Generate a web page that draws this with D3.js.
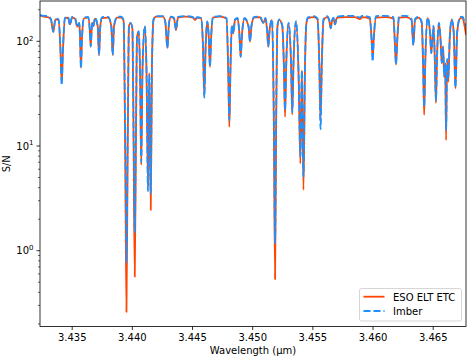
<!DOCTYPE html>
<html><head><meta charset="utf-8">
<script src="https://cdn.jsdelivr.net/npm/d3@7"></script>
<style>body{margin:0;background:#fff}svg{display:block}text{font-family:"DejaVu Sans",sans-serif;font-size:10px;fill:#000}</style>
</head><body><svg id="c" width="467" height="360"></svg>
<script>
const wavelength = [
3.43237,3.43270,3.43303,3.43328,3.43347,3.43365,3.43390,3.43407,3.43417,3.43427,
3.43444,3.43469,3.43486,3.43503,3.43527,3.43547,3.43563,3.43569,3.43577,3.43586,
3.43602,3.43636,3.43650,3.43658,3.43667,3.43671,3.43680,3.43694,3.43716,3.43727,
3.43738,3.43752,3.43802,3.43829,3.43841,3.43852,3.43877,3.43910,3.43931,3.43945,
3.43955,3.43965,3.43976,3.43990,3.44005,3.44014,3.44024,3.44034,3.44043,3.44057,
3.44068,3.44078,3.44088,3.44107,3.44122,3.44134,3.44145,3.44157,3.44167,3.44180,
3.44201,3.44259,3.44279,3.44295,3.44309,3.44325,3.44350,3.44367,3.44383,3.44442,
3.44508,3.44525,3.44541,3.44575,3.44591,3.44602,3.44613,3.44627,3.44639,3.44649,
3.44659,3.44674,3.44732,3.44786,3.44801,3.44810,3.44819,3.44831,3.44843,3.44857,
3.44878,3.44893,3.44904,3.44916,3.44936,3.44969,3.44982,3.44994,3.45015,3.45065,
3.45092,3.45111,3.45123,3.45134,3.45145,3.45165,3.45180,3.45190,3.45199,3.45210,
3.45225,3.45250,3.45263,3.45273,3.45283,3.45302,3.45323,3.45333,3.45343,3.45364,
3.45387,3.45400,3.45413,3.45426,3.45439,3.45451,3.45464,3.45514,3.45543,3.45558,
3.45568,3.45578,3.45593,3.45622,3.45642,3.45652,3.45663,3.45676,3.45688,3.45705,
3.45771,3.45854,3.45896,3.45912,3.45977,3.45991,3.46001,3.46011,3.46029,3.46104,
3.46174,3.46185,3.46195,3.46205,3.46220,3.46278,3.46324,3.46339,3.46353,3.46382,
3.46409,3.46420,3.46429,3.46438,3.46458,3.46478,3.46488,3.46507,3.46517,3.46527,
3.46536,3.46552,3.46566,3.46575,3.46586,3.46596,3.46604,3.46611,3.46620,3.46630,
3.46642,3.46658,3.46675,3.46689,3.46703,3.46727,3.46748,3.46760,3.46777];
const etcSN = [
176,172,170,160,123,162,160,80,40,80,
165,168,145,168,165,138,150,110,56,110,
165,168,130,89,135,150,140,165,140,74,
140,167,168,140,74,140,168,168,158,8,
0.26,8,140,149,130,12,0.565,12,110,123,
50,6.6,50,138,50,4.2,50,2.45,60,160,
172,172,150,86,150,170,165,128,168,172,
168,160,168,165,90,30,90,154,110,57,
110,168,172,165,50,15.2,50,140,119,160,
165,120,71,120,165,140,99,140,168,170,
150,165,130,89,130,160,15,0.535,15,140,
160,140,60,19,60,149,60,20,60,154,
40,6.8,53,3.8,60,150,166,170,162,60,
17,60,160,170,155,133,155,165,145,168,
170,170,163,170,165,110,70,110,168,170,
165,100,60,100,168,170,160,92,160,168,
150,60,19.8,60,166,120,77,140,70,25.8,
70,149,100,62,89,46,60,11.4,66,41,
110,160,120,35.5,120,165,168,150,115];
const imberSN = [
178,175,174,162,123,165,163,82,38,82,
168,171,143,171,168,138,150,110,55,110,
168,171,130,89,135,150,140,168,140,74,
140,170,171,140,74,140,171,172,160,12,
0.76,12,142,150,132,15,1.5,15,112,125,
52,7,52,140,50,3.7,48,3.5,60,162,
174,174,150,86,150,172,168,128,171,174,
170,160,170,167,90,29,90,155,110,57,
110,171,174,167,55,17.7,55,142,119,162,
167,120,71,120,167,140,99,140,171,172,
150,167,130,89,130,162,20,1.18,20,142,
162,142,62,22,62,150,62,21,62,156,
42,7.9,53,5.1,60,152,169,174,165,55,
14.5,55,163,174,157,133,157,168,145,172,
175,175,168,175,170,110,64,110,174,175,
170,100,60,100,174,175,163,92,163,172,
152,65,23.7,65,168,120,77,140,72,27,
72,150,100,62,89,46,62,14.2,68,45,
110,162,120,36,120,170,172,160,140];
const seriesNames = ["ESO ELT ETC", "Imber"];
const xTicks = [3.435, 3.440, 3.445, 3.450, 3.455, 3.460, 3.465];
const yTicks = [1, 10, 100];
const yTickExp = ["0", "1", "2"];

const L = 40, R = 466, T = 1, B = 326.5;
const svg = d3.select("#c");
const x = d3.scaleLinear().domain([3.432366, 3.467767]).range([L, R]);
const y = d3.scaleLog().domain([0.1888, 242.6]).range([B, T]);

svg.append("defs").append("clipPath").attr("id","clip")
  .append("rect").attr("x",L).attr("y",T).attr("width",R-L).attr("height",B-T);

const pts = (vals) => wavelength.map((w,i)=>[w, vals[i]]);
const line = d3.line().x(d=>x(d[0])).y(d=>y(d[1])).curve(d3.curveMonotoneX);
const g = svg.append("g").attr("clip-path","url(#clip)");
g.append("path").attr("d", line(pts(etcSN))).attr("fill","none")
  .attr("stroke","#ff4500").attr("stroke-width",1.8).attr("stroke-linejoin","round");
g.append("path").attr("d", line(pts(imberSN))).attr("fill","none")
  .attr("stroke","#1e90ff").attr("stroke-width",1.8).attr("stroke-dasharray","7,3").attr("stroke-linejoin","round");

// axes
const xAxis = d3.axisBottom(x).tickValues(xTicks).tickFormat(d3.format(".3f")).tickSize(3.5).tickPadding(3.5);
const gx = svg.append("g").attr("transform",`translate(0,${B})`).call(xAxis);
gx.select(".domain").remove();
gx.selectAll("line").attr("stroke","#000").attr("stroke-width",0.8);
gx.selectAll("text").attr("font-size",10).attr("font-family","DejaVu Sans").attr("fill","#000");

const minor = [];
for (let e=-1;e<=2;e++) for (let k=2;k<=9;k++){const v=k*Math.pow(10,e); if(v>=0.1888&&v<=242.6) minor.push(v);}
const gy = svg.append("g");
gy.selectAll(".mn").data(minor).enter().append("line")
  .attr("x1",L-2).attr("x2",L).attr("y1",d=>y(d)).attr("y2",d=>y(d)).attr("stroke","#000").attr("stroke-width",0.6);
gy.selectAll(".mj").data(yTicks).enter().append("line")
  .attr("x1",L-3.5).attr("x2",L).attr("y1",d=>y(d)).attr("y2",d=>y(d)).attr("stroke","#000").attr("stroke-width",0.8);
const lab = gy.selectAll(".lb").data(yTicks).enter().append("text")
  .attr("x",L-7).attr("y",d=>y(d)+3.7).attr("text-anchor","end");
lab.append("tspan").text("10");
lab.append("tspan").attr("font-size",7).attr("dy",-4.2).text((d,i)=>yTickExp[i]);
// shift so superscript ends at tick pad
lab.attr("x",L-3.5-4);
lab.each(function(){ d3.select(this).attr("text-anchor","start"); const bb=this.getBBox(); d3.select(this).attr("x", L-3.5-3 - bb.width); });

svg.append("rect").attr("x",L).attr("y",T).attr("width",R-L).attr("height",B-T)
  .attr("fill","none").attr("stroke","#000").attr("stroke-width",0.8);

svg.append("text").attr("x",(L+R)/2).attr("y",354.3).attr("text-anchor","middle").text("Wavelength (μm)");
svg.append("text").attr("transform",`translate(10,${(T+B)/2}) rotate(-90)`).attr("text-anchor","middle").text("S/N");

// legend
const lg = svg.append("g");
lg.append("rect").attr("x",359.5).attr("y",288.5).attr("width",102).attr("height",32.5).attr("rx",2)
  .attr("fill","#fff").attr("fill-opacity",0.8).attr("stroke","#cccccc").attr("stroke-width",0.8);
lg.append("line").attr("x1",363.5).attr("x2",384.5).attr("y1",296.7).attr("y2",296.7).attr("stroke","#ff4500").attr("stroke-width",1.8);
lg.append("line").attr("x1",363.5).attr("x2",384.5).attr("y1",311).attr("y2",311).attr("stroke","#1e90ff").attr("stroke-width",1.8).attr("stroke-dasharray","7,3");
lg.append("text").attr("x",393).attr("y",300.5).text(seriesNames[0]);
lg.append("text").attr("x",393).attr("y",315).text(seriesNames[1]);
</script></body></html>
